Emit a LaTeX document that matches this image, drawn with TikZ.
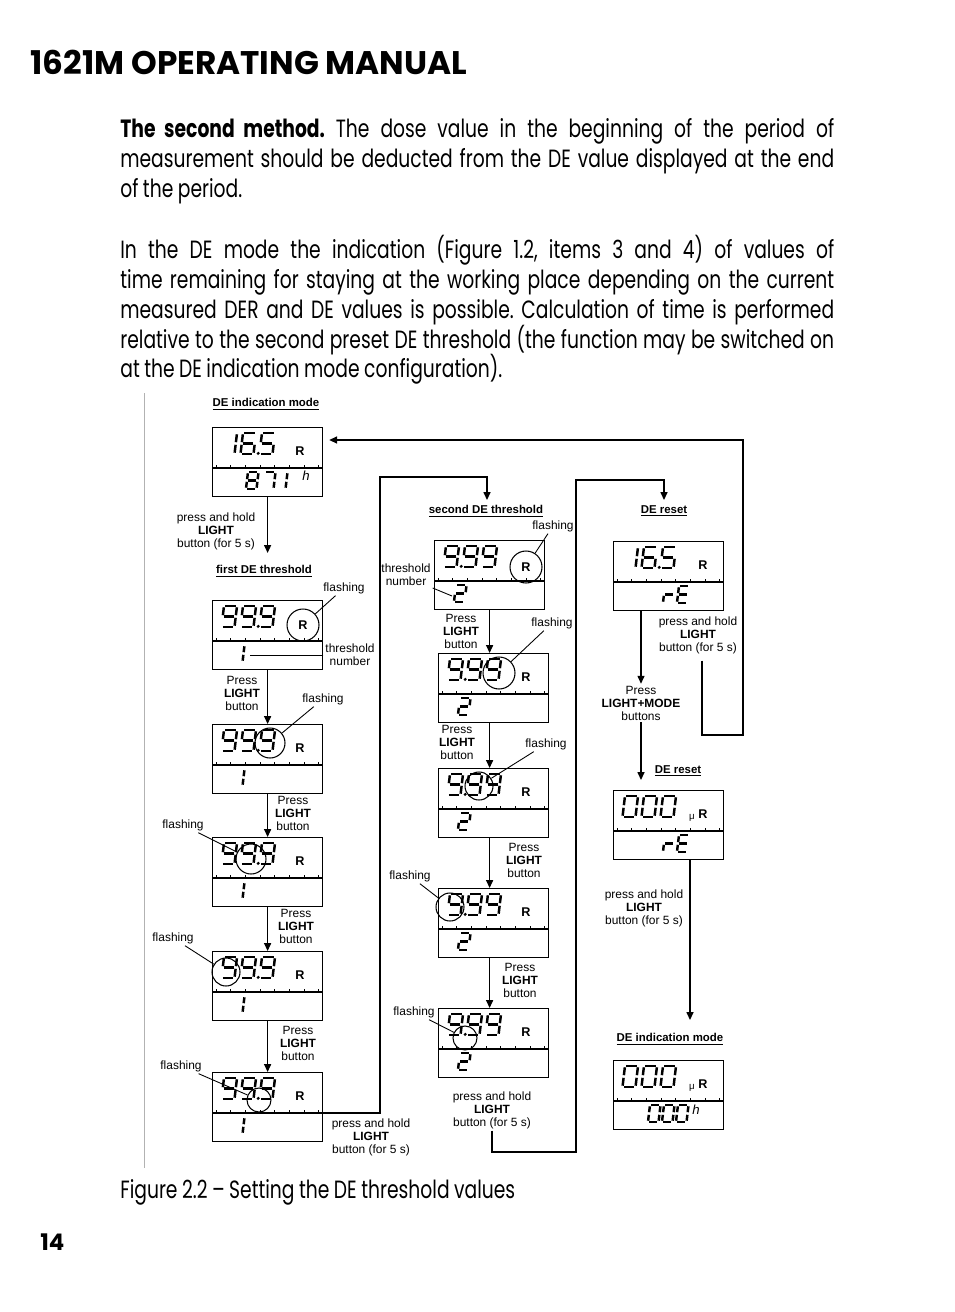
\documentclass[tikz,border=0pt]{standalone}
\usepackage{fontspec}
\setmainfont{Liberation Sans}
\newfontfamily\bodyfont{Poppins}[FakeStretch=0.75, WordSpace=0.9]
\newfontfamily\headfont{Poppins}
\usetikzlibrary{arrows.meta,calc}
\frenchspacing

% seven segment codes
\newcommand\sgZero{a,b,c,d,e,f}
\newcommand\sgOne{b,c}
\newcommand\sgTwo{a,b,g,e,d}
\newcommand\sgFive{a,f,g,c,d}
\newcommand\sgSix{a,f,g,e,d,c}
\newcommand\sgSeven{a,b,c}
\newcommand\sgEight{a,b,c,d,e,f,g}
\newcommand\sgNine{a,b,c,d,f,g}
\newcommand\sgR{e,g}
\newcommand\sgE{a,d,e,f,g}

\newcommand\holdL{press and hold\\\textbf{LIGHT}\\button (for 5 s)}
\newcommand\pressL{Press\\\textbf{LIGHT}\\button}

\tikzset{
  lcd/.style={draw, line width=0.7pt, minimum width=2.2cm, minimum height=1.38cm, inner sep=0pt},
  seg/.style={line width=1.4pt, shorten <=0.75pt, shorten >=0.75pt},
  lbl/.style={font=\fontsize{6.8}{7.4}\selectfont, align=center, inner sep=1pt},
  ttl/.style={font=\bfseries\fontsize{6.5}{7}\selectfont, inner sep=1pt},
  rsym/.style={font=\bfseries\fontsize{7.2}{8}\selectfont, inner sep=0pt},
  ring/.style={circle, draw, line width=0.6pt, inner sep=0pt},
  lead/.style={line width=0.5pt},
  flow/.style={line width=0.7pt, -{Triangle[length=4.5pt,width=4pt]}},
  body/.style={font=\bodyfont\fontsize{14.2}{17}\selectfont, inner sep=0pt, anchor=base west},
}

% one digit: position, height, segments
\newcommand\lcdd[3]{%
  \edef\lcdlist{#3}%
  \begin{scope}[shift={#1}, scale=#2, xslant=.12]
    \foreach \s in \lcdlist {
      \if a\s \draw[seg] (0,0) -- (.62,0); \fi
      \if b\s \draw[seg] (.62,0) -- (.62,.5); \fi
      \if c\s \draw[seg] (.62,.5) -- (.62,1); \fi
      \if d\s \draw[seg] (0,1) -- (.62,1); \fi
      \if e\s \draw[seg] (0,.5) -- (0,1); \fi
      \if f\s \draw[seg] (0,0) -- (0,.5); \fi
      \if g\s \draw[seg] (0,.5) -- (.62,.5); \fi
      \if p\s \fill (.84,.97) circle[radius=.08]; \fi
    }
  \end{scope}}
\newcommand\lcdpanel[3]{%
  \node[lcd, anchor=north west] (#1) at (#2,#3) {};
  \draw[line width=0.6pt] ($(#1.north west)+(0,41)$) -- ($(#1.north east)+(0,41)$);
  \foreach \t in {0,...,7} \draw[line width=0.5pt] ($(#1.north west)+(4+14.7*\t,41)$) -- ++(0,-3);}
\newcommand\lcdtop[4]{%
  \lcdd{($(#1.north west)+(12,6)$)}{21}{#2}
  \lcdd{($(#1.north west)+(31,6)$)}{21}{#3}
  \lcdd{($(#1.north west)+(50,6)$)}{21}{#4}}
\newcommand\lcdbot[3]{\lcdd{($(#1.north west)+(#2,45)$)}{17}{#3}}

\begin{document}
\begin{tikzpicture}[x=0.02cm, y=-0.02cm]
\fill[white] (0,0) rectangle (954,1312);
\useasboundingbox (0,0) rectangle (954,1312);

% page text
\node[anchor=base west, inner sep=0pt, font=\headfont\bfseries\fontsize{18.6}{20}\selectfont] (head) at (30,74) {1621M OPERATING MANUAL};
\node[body] (pa1) at (120,137) {\makebox[14.28cm][s]{\textbf{The second method.} The dose value in the beginning of the period of}};
\node[body] (pa2) at (120,167) {\makebox[14.28cm][s]{measurement should be deducted from the DE value displayed at the end}};
\node[body] (pa3) at (120,197) {of the period.};
\node[body] (pb1) at (120,258) {\makebox[14.28cm][s]{In the DE mode the indication (Figure 1.2, items 3 and 4) of values of}};
\node[body] (pb2) at (120,288) {\makebox[14.28cm][s]{time remaining for staying at the working place depending on the current}};
\node[body] (pb3) at (120,318) {\makebox[14.28cm][s]{measured DER and DE values is possible. Calculation of time is performed}};
\node[body] (pb4) at (120,348) {\makebox[14.28cm][s]{relative to the second preset DE threshold (the function may be switched on}};
\node[body] (pb5) at (120,377) {at the DE indication mode configuration).};
\node[body] (cap) at (120,1198) {Figure 2.2 – Setting the DE threshold values};
\node[body, font=\headfont\bfseries\fontsize{13}{15}\selectfont] (pnum) at (40,1250) {14};
\draw[gray!60, line width=0.4pt] (144,393) -- (144,1168);

% first column
\node[ttl] (t0) at (266,404) {\underline{DE indication mode}};
\lcdpanel{d0}{212}{427}
\lcdtop{d0}{\sgOne}{\sgSix,p}{\sgFive}
\lcdbot{d0}{36}{\sgEight} \lcdbot{d0}{53}{\sgSeven} \lcdbot{d0}{65}{\sgOne}
\node[rsym] (d0R) at ($(d0.north west)+(88,24)$) {R};
\node[inner sep=0pt, font=\itshape\fontsize{7.5}{8}\selectfont] (d0h) at ($(d0.north west)+(94,49)$) {h};
\node[lbl] (h01) at (216,531) {\holdL};
\node[ttl] (t1) at (264,571) {\underline{first DE threshold}};

\lcdpanel{d1}{212}{600}
\lcdtop{d1}{\sgNine}{\sgNine,p}{\sgNine} \lcdbot{d1}{22}{\sgOne}
\node[ring, minimum size=0.64cm] (d1c) at ($(d1.north west)+(91,25)$) {};
\node[rsym] (d1R) at (d1c) {R};
\node[lbl] (f1) at (344,588) {flashing};
\node[lbl] (n1) at (350,655) {threshold\\number};
\coordinate (d1n) at ($(d1.north west)+(38,57)$);

\lcdpanel{d2}{212}{724}
\lcdtop{d2}{\sgNine}{\sgNine,p}{\sgNine} \lcdbot{d2}{22}{\sgOne}
\node[rsym] (d2R) at ($(d2.north west)+(88,24)$) {R};
\node[ring, minimum size=0.6cm] (d2c) at ($(d2.north west)+(58,19)$) {};
\node[lbl] (p12) at (242,693) {\pressL};
\node[lbl] (f2) at (323,699) {flashing};

\lcdpanel{d3}{212}{837}
\lcdtop{d3}{\sgNine}{\sgNine,p}{\sgNine} \lcdbot{d3}{22}{\sgOne}
\node[rsym] (d3R) at ($(d3.north west)+(88,24)$) {R};
\node[ring, minimum size=0.6cm] (d3c) at ($(d3.north west)+(39,22)$) {};
\node[lbl] (p23) at (293,813) {\pressL};
\node[lbl] (f3) at (183,825) {flashing};

\lcdpanel{d4}{212}{951}
\lcdtop{d4}{\sgNine}{\sgNine,p}{\sgNine} \lcdbot{d4}{22}{\sgOne}
\node[rsym] (d4R) at ($(d4.north west)+(88,24)$) {R};
\node[ring, minimum size=0.56cm] (d4c) at ($(d4.north west)+(14,21)$) {};
\node[lbl] (p34) at (296,926) {\pressL};
\node[lbl] (f4) at (173,938) {flashing};

\lcdpanel{d5}{212}{1072}
\lcdtop{d5}{\sgNine}{\sgNine,p}{\sgNine} \lcdbot{d5}{22}{\sgOne}
\node[rsym] (d5R) at ($(d5.north west)+(88,24)$) {R};
\node[ring, minimum size=0.48cm] (d5c) at ($(d5.north west)+(47,28)$) {};
\node[lbl] (p45) at (298,1043) {\pressL};
\node[lbl] (f5) at (181,1066) {flashing};
\node[lbl] (h5) at (371,1137) {\holdL};
\coordinate (d5o) at ($(d5.north east)+(0,41)$);

% second column
\node[ttl] (t2) at (486,511) {\underline{second DE threshold}};
\lcdpanel{e1}{434}{540}
\lcdtop{e1}{\sgNine,p}{\sgNine}{\sgNine} \lcdbot{e1}{22}{\sgTwo}
\node[ring, minimum size=0.64cm] (e1c) at ($(e1.north west)+(92,27)$) {};
\node[rsym] (e1R) at (e1c) {R};
\node[lbl] (g1) at (553,526) {flashing};
\node[lbl] (n2) at (406,575) {threshold\\number};
\coordinate (e1n) at ($(e1.north west)+(18,56)$);

\lcdpanel{e2}{438}{653}
\lcdtop{e2}{\sgNine,p}{\sgNine}{\sgNine} \lcdbot{e2}{22}{\sgTwo}
\node[rsym] (e2R) at ($(e2.north west)+(88,24)$) {R};
\node[ring, minimum size=0.64cm] (e2c) at ($(e2.north west)+(61,20)$) {};
\node[lbl] (q12) at (461,631) {\pressL};
\node[lbl] (g2) at (552,623) {flashing};

\lcdpanel{e3}{438}{768}
\lcdtop{e3}{\sgNine,p}{\sgNine}{\sgNine} \lcdbot{e3}{22}{\sgTwo}
\node[rsym] (e3R) at ($(e3.north west)+(88,24)$) {R};
\node[ring, minimum size=0.56cm] (e3c) at ($(e3.north west)+(41,18)$) {};
\node[lbl] (q23) at (457,742) {\pressL};
\node[lbl] (g3) at (546,744) {flashing};

\lcdpanel{e4}{438}{888}
\lcdtop{e4}{\sgNine,p}{\sgNine}{\sgNine} \lcdbot{e4}{22}{\sgTwo}
\node[rsym] (e4R) at ($(e4.north west)+(88,24)$) {R};
\node[ring, minimum size=0.56cm] (e4c) at ($(e4.north west)+(12,19)$) {};
\node[lbl] (q34) at (524,860) {\pressL};
\node[lbl] (g4) at (410,876) {flashing};

\lcdpanel{e5}{438}{1008}
\lcdtop{e5}{\sgNine,p}{\sgNine}{\sgNine} \lcdbot{e5}{22}{\sgTwo}
\node[rsym] (e5R) at ($(e5.north west)+(88,24)$) {R};
\node[ring, minimum size=0.48cm] (e5c) at ($(e5.north west)+(27,30)$) {};
\node[lbl] (q45) at (520,980) {\pressL};
\node[lbl] (g5) at (414,1012) {flashing};
\node[lbl] (h6) at (492,1110) {\holdL};

% third column
\node[ttl] (t3) at (664,511) {\underline{DE reset}};
\lcdpanel{r1}{613}{541}
\lcdtop{r1}{\sgOne}{\sgSix,p}{\sgFive}
\lcdbot{r1}{52}{\sgR} \lcdbot{r1}{66}{\sgE}
\node[rsym] (r1R) at ($(r1.north west)+(90,24)$) {R};
\node[lbl] (k1) at (641,703) {Press\\\textbf{LIGHT+MODE}\\buttons};
\node[lbl] (k2) at (698,635) {\holdL};

\node[ttl] (t4) at (678,771) {\underline{DE reset}};
\lcdpanel{r2}{613}{790}
\lcdtop{r2}{\sgZero}{\sgZero}{\sgZero}
\lcdbot{r2}{52}{\sgR} \lcdbot{r2}{66}{\sgE}
\node[inner sep=0pt, font=\fontsize{5.5}{6}\selectfont] (r2u) at ($(r2.north west)+(79,28)$) {μ};
\node[rsym] (r2R) at ($(r2.north west)+(90,24)$) {R};
\node[lbl] (k3) at (644,908) {\holdL};

\node[ttl] (t5) at (670,1039) {\underline{DE indication mode}};
\lcdpanel{r3}{613}{1060}
\lcdtop{r3}{\sgZero}{\sgZero}{\sgZero}
\lcdbot{r3}{37}{\sgZero} \lcdbot{r3}{51}{\sgZero} \lcdbot{r3}{65}{\sgZero}
\node[inner sep=0pt, font=\fontsize{5.5}{6}\selectfont] (r3u) at ($(r3.north west)+(79,28)$) {μ};
\node[rsym] (r3R) at ($(r3.north west)+(90,24)$) {R};
\node[inner sep=0pt, font=\itshape\fontsize{7.5}{8}\selectfont] (r3h) at ($(r3.north west)+(83,50)$) {h};

% junctions
\coordinate (j1) at (380,477);
\coordinate (t2in) at (487,500);
\coordinate (j3) at (576,1152);
\coordinate (j4) at (576,480);
\coordinate (t3in) at (664,500);
\coordinate (j5) at (743,735);
\coordinate (d0in) at ($(d0.north east)+(6,13)$);
\coordinate (r2in) at ($(r2.north west)+(28,-10)$);
\coordinate (r3in) at (690,1020);

% connectors
\draw[flow] (d0) -- ($(t1.north -| d0)+(0,-10)$);
\draw[flow] (d1) -- (d2);
\draw[flow] (d2) -- (d3);
\draw[flow] (d3) -- (d4);
\draw[flow] (d4) -- (d5);
\draw[flow] (d5o) -| (j1) -| (t2in);
\draw[flow] (e1.south) -- (e1.south |- e2.north);
\draw[flow] (e2.south -| e1.south) -- (e1.south |- e3.north);
\draw[flow] (e3.south -| e1.south) -- (e1.south |- e4.north);
\draw[flow] (e4.south -| e1.south) -- (e1.south |- e5.north);
\draw[flow] (h6.south) |- (j3) -- (j4) -| (t3in);
\draw[flow] (r1.south -| k1) -- (k1.north);
\draw[flow] (k1.south) -- (r2in);
\draw[flow] ($(k2.south)+(4,5)$) |- (j5) |- (d0in);
\draw[flow] (r2.south -| r3in) -- (r3in);

% leaders
\draw[lead] (f1) -- (d1c);
\draw[lead] (f2) -- (d2c);
\draw[lead] (f3) -- (d3c);
\draw[lead] (f4) -- (d4c);
\draw[lead] (f5) -- (d5c);
\draw[lead] (g1) -- (e1c);
\draw[lead] (g2) -- (e2c);
\draw[lead] (g3) -- (e3c);
\draw[lead] (g4) -- (e4c);
\draw[lead] (g5) -- (e5c);
\draw[lead] (n1.west) -- (n1.west -| d1n);
\draw[lead] (n2.south east) -- (e1n);
\end{tikzpicture}
\end{document}
